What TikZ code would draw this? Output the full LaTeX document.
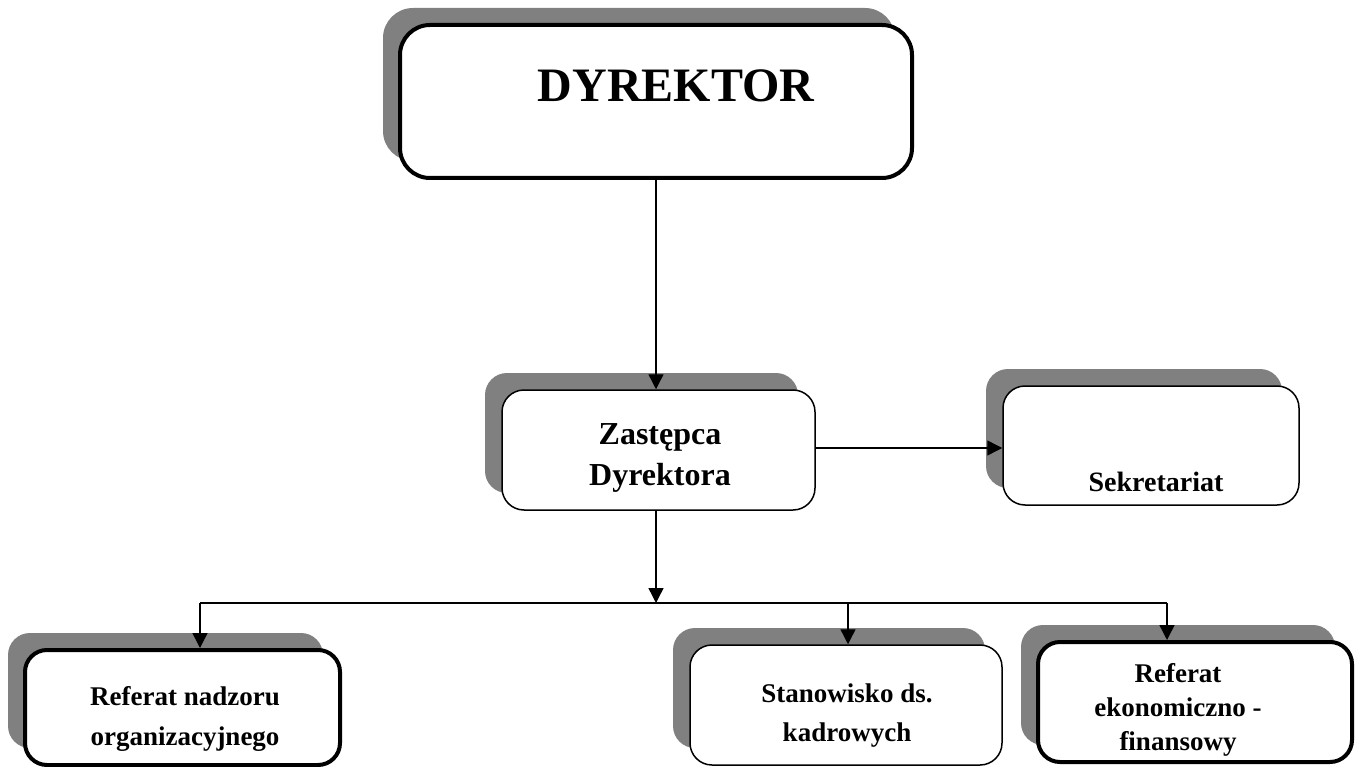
\documentclass[tikz,border=0pt]{standalone}
\usepackage{fontspec}
\setmainfont{Liberation Serif}
\usetikzlibrary{arrows.meta,shadows}
\definecolor{shadowgray}{RGB}{128,128,128}
\tikzset{
  box/.style={draw=black, fill=white, rounded corners=22pt, inner sep=0pt,
    general shadow={fill=shadowgray, shadow xshift=-17pt, shadow yshift=17pt}},
  thickbox/.style={box, line width=4pt},
  thinbox/.style={box, line width=1.5pt},
  lbl/.style={font=\bfseries, align=center, inner sep=0pt},
  arr/.style={line width=1.4pt, -{Triangle[length=15pt,width=15pt]}},
  ln/.style={line width=1.4pt}
}
\begin{document}
\begin{tikzpicture}[x=1pt,y=-1pt]
\useasboundingbox (0,0) rectangle (1362,767);
% boxes
\node[thickbox, rounded corners=30pt, minimum width=512pt, minimum height=153pt] (dyr) at (656,101.5) {};
\node[thinbox, minimum width=313pt, minimum height=120pt] (zast) at (658.5,450) {};
\node[thinbox, minimum width=296pt, minimum height=119pt] (sekr) at (1151,445.5) {};
\node[thickbox, minimum width=315pt, minimum height=115pt] (nadz) at (182.5,707.5) {};
\node[thinbox, minimum width=312pt, minimum height=120pt] (kadr) at (846,705) {};
\node[thickbox, minimum width=314pt, minimum height=120pt] (ekon) at (1195,702) {};
% texts
\node[lbl, font=\bfseries\fontsize{48}{56}\selectfont] (dyrt) at (676,86) {DYREKTOR};
\node[lbl, font=\bfseries\fontsize{32}{41}\selectfont] (zastt) at (660,458) {Zastępca\\Dyrektora};
\node[lbl, font=\bfseries\fontsize{28}{36}\selectfont] (sekrt) at (1156,482) {Sekretariat};
\node[lbl, font=\bfseries\fontsize{27}{40}\selectfont] (nadzt) at (185,719) {Referat nadzoru\\organizacyjnego};
\node[lbl, font=\bfseries\fontsize{27}{39}\selectfont] (kadrt) at (847,716) {Stanowisko ds.\\kadrowych};
\node[lbl, font=\bfseries\fontsize{27}{34}\selectfont] (ekont) at (1178,710) {Referat\\ekonomiczno -\\finansowy};
% connectors
\coordinate (j) at (656,603);
\coordinate (jl) at (200,603);
\coordinate (jm) at (848,603);
\coordinate (jr) at (1167,603);
\draw[arr] (dyr.south) -- (zast.north -| dyr.south);
\draw[arr] (zast.east |- 0,448) -- (sekr.west |- 0,448);
\draw[arr] (zast.south -| j) -- (j);
\draw[ln] (jl) -- (jr);
\draw[arr] (jl) -- (nadz.north -| jl);
\draw[arr] (jm) -- (kadr.north -| jm);
\draw[arr] (jr) -- (ekon.north -| jr);
\end{tikzpicture}
\end{document}
